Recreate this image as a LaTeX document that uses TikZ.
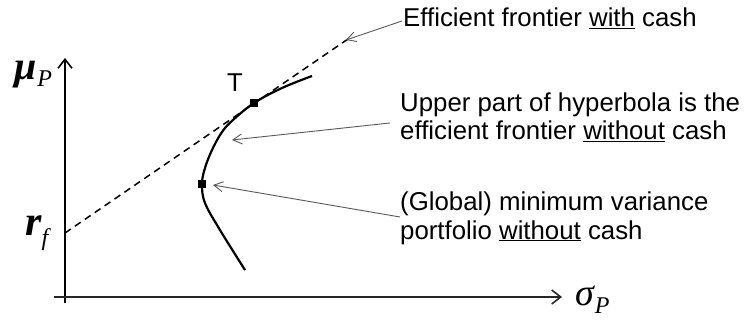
\documentclass[tikz,border=0pt]{standalone}
\usepackage{fontspec}
\setmainfont{Liberation Sans}
\newfontfamily\symfnt{Liberation Serif}
\usetikzlibrary{arrows.meta}
\newcommand\biglett[2][38]{{\fontsize{#1}{#1}\selectfont\symfnt\itshape #2}}
\newcommand\subl[2][6pt]{\raisebox{-#1}{\fontsize{24}{24}\selectfont\symfnt\itshape #2}}
\begin{document}
\begin{tikzpicture}[x=1pt,y=-1pt,
 lbl/.style={font=\fontsize{25.8}{30}\selectfont, inner sep=0pt, anchor=base west},
 mlbl/.style={inner sep=0pt, anchor=base west},
 sq/.style={fill=black, minimum size=8pt, inner sep=0pt},
 axisline/.style={line width=1.6pt, -{Straight Barb[length=9pt,width=14pt]}},
 pointer/.style={black!65, line width=0.9pt, -{Straight Barb[length=9pt,width=10pt]}},
 frontier/.style={line width=2.2pt},
 cashline/.style={line width=1.5pt, dash pattern=on 7pt off 5pt}]
\useasboundingbox (0,0) rectangle (751,320);
% axes
\coordinate (ybot) at (65,303);
\coordinate (ytop) at (65,58);
\coordinate (xleft) at (54,297);
\coordinate (xright) at (562,297);
\draw[axisline] (ybot) -- (ytop);
\draw[axisline, black!85] (xleft) -- (xright);
% axis labels
\node[mlbl] (mu) at (14,80) {\biglett[40]{\bfseries μ}\kern1pt\subl[7pt]{P}};
\node[mlbl] (rf) at (25,235) {\biglett[42]{\bfseries r}\subl[10pt]{f}};
\node[mlbl] (sigma) at (575,305) {\biglett[38]{σ}\kern1pt\subl[8pt]{P}};
% capital market line
\coordinate (rfpt) at (65,233);
\coordinate (cmlend) at (348,39);
\draw[cashline] (rfpt) -- (cmlend);
% hyperbola
\draw[frontier] plot[smooth, tension=0.6] coordinates {(312,76) (282,88) (254,103) (233,120) (222,132) (212,150) (205,168) (202,184) (205,203) (220,230) (245,270)};
\node[sq] (T) at (254,103) {};
\node[sq] (mv) at (202,184) {};
\node[lbl] (Tlbl) at (227,92) {T};
% texts
\node[lbl] (t1) at (403,27) {Efficient frontier \underline{with} cash};
\node[lbl] (t2a) at (400,112) {Upper part of hyperbola is the};
\node[lbl] (t2b) at (400,140) {efficient frontier \underline{without} cash};
\node[lbl] (t3a) at (400,211) {(Global) minimum variance};
\node[lbl] (t3b) at (400,239) {portfolio \underline{without} cash};
% pointers
\coordinate (s1) at (402,21);
\coordinate (e1) at (346,40);
\coordinate (s2) at (390,123);
\coordinate (e2) at (232,140);
\coordinate (s3) at (400,217);
\coordinate (e3) at (213,185);
\draw[pointer] (s1) -- (e1);
\draw[pointer] (s2) -- (e2);
\draw[pointer] (s3) -- (e3);
\end{tikzpicture}
\end{document}
